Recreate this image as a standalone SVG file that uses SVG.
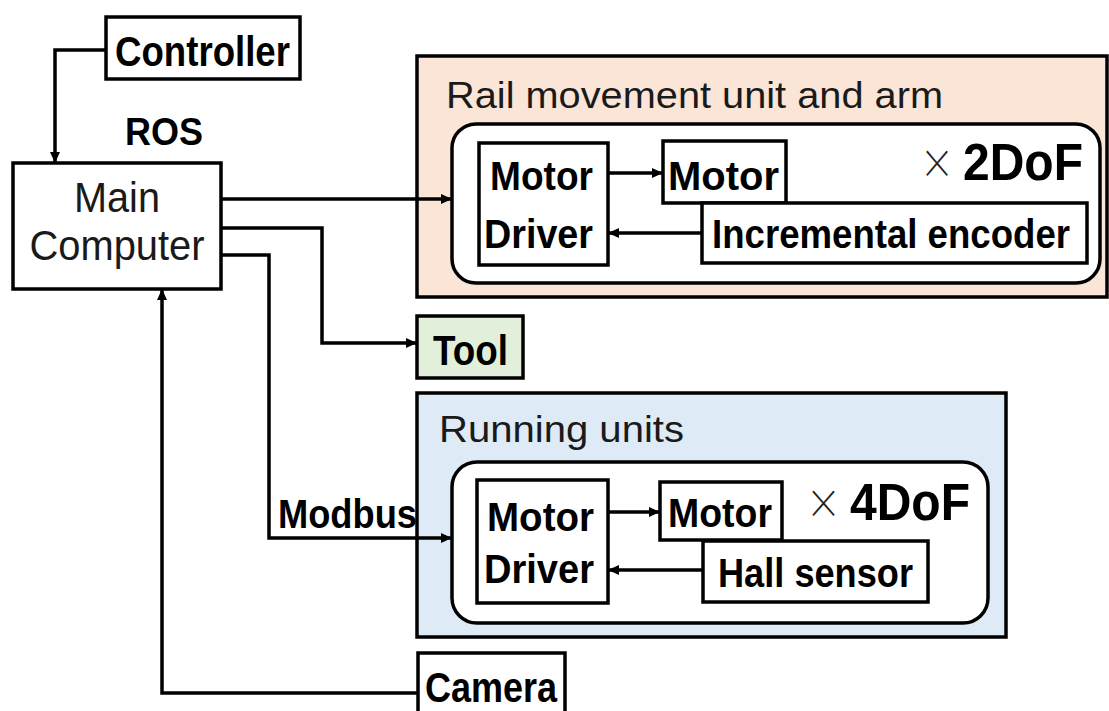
<svg xmlns="http://www.w3.org/2000/svg" width="1109" height="711" viewBox="0 0 1109 711">
<style>
.box{fill:#fff;stroke:#000;stroke-width:3.5}
.grp{stroke:#000;stroke-width:3.5}
.rnd{fill:#fff;stroke:#000;stroke-width:3.5}
.b{font-family:"Liberation Sans",Arial,sans-serif;font-weight:bold;fill:#000}
.r{font-family:"Liberation Sans",Arial,sans-serif;font-weight:normal;fill:#1a1a1a}
.x{font-family:"Noto Sans CJK JP","Liberation Sans",sans-serif;font-weight:300;fill:#222}
.ln{fill:none;stroke:#000;stroke-width:3.5}
</style>
<defs>
<marker id="ah" markerUnits="userSpaceOnUse" markerWidth="12" markerHeight="12" refX="11" refY="6" orient="auto">
<path d="M0,1 L11,6 L0,11 z" fill="#000"/>
</marker>
</defs>
<rect width="1109" height="711" fill="#fff"/>

<g id="rail">
<rect class="grp" x="417" y="56" width="690" height="241" fill="#fbe5d6"/>
<text class="r" x="446" y="108" font-size="36" textLength="497" lengthAdjust="spacingAndGlyphs">Rail movement unit and arm</text>
<rect class="rnd" x="452" y="124" width="648" height="159" rx="24"/>
</g>
<g id="rail-driver">
<rect class="box" x="479" y="143" width="129" height="122"/>
<text class="b" x="490" y="190" font-size="41" textLength="103" lengthAdjust="spacingAndGlyphs">Motor</text>
<text class="b" x="484" y="248" font-size="41" textLength="109" lengthAdjust="spacingAndGlyphs">Driver</text>
</g>
<g id="rail-motor">
<rect class="box" x="663" y="141" width="123" height="62"/>
<text class="b" x="668" y="190" font-size="41" textLength="111" lengthAdjust="spacingAndGlyphs">Motor</text>
</g>
<g id="rail-encoder">
<rect class="box" x="702" y="203" width="385" height="60"/>
<text class="b" x="712" y="248" font-size="41" textLength="358" lengthAdjust="spacingAndGlyphs">Incremental encoder</text>
</g>
<g id="rail-dof">
<text class="x" x="920" y="178" font-size="40" textLength="34" lengthAdjust="spacingAndGlyphs">×</text>
<text class="b" x="963" y="180" font-size="51" textLength="120" lengthAdjust="spacingAndGlyphs">2DoF</text>
</g>

<g id="running">
<rect class="grp" x="417" y="393" width="589" height="244" fill="#deebf7"/>
<text class="r" x="439" y="442" font-size="37" textLength="245" lengthAdjust="spacingAndGlyphs">Running units</text>
<rect class="rnd" x="452" y="462" width="536" height="161" rx="25"/>
</g>
<g id="run-driver">
<rect class="box" x="477" y="480" width="131" height="123"/>
<text class="b" x="487" y="531" font-size="41" textLength="107" lengthAdjust="spacingAndGlyphs">Motor</text>
<text class="b" x="484" y="583" font-size="41" textLength="110" lengthAdjust="spacingAndGlyphs">Driver</text>
</g>
<g id="run-motor">
<rect class="box" x="660" y="482" width="122" height="58"/>
<text class="b" x="668" y="527" font-size="41" textLength="104" lengthAdjust="spacingAndGlyphs">Motor</text>
</g>
<g id="run-hall">
<rect class="box" x="703" y="541" width="225" height="61"/>
<text class="b" x="718" y="587" font-size="41" textLength="195" lengthAdjust="spacingAndGlyphs">Hall sensor</text>
</g>
<g id="run-dof">
<text class="x" x="806" y="518" font-size="40" textLength="35" lengthAdjust="spacingAndGlyphs">×</text>
<text class="b" x="850" y="520" font-size="51" textLength="120" lengthAdjust="spacingAndGlyphs">4DoF</text>
</g>

<g id="controller">
<rect class="box" x="106" y="17" width="194" height="62"/>
<text class="b" x="115" y="66" font-size="43" textLength="175" lengthAdjust="spacingAndGlyphs">Controller</text>
</g>
<g id="ros">
<text class="b" x="125" y="145" font-size="38" textLength="78" lengthAdjust="spacingAndGlyphs">ROS</text>
</g>
<g id="main">
<rect class="box" x="13" y="163" width="208" height="126"/>
<text class="r" x="117" y="212" font-size="42" text-anchor="middle" textLength="86" lengthAdjust="spacingAndGlyphs">Main</text>
<text class="r" x="117" y="260" font-size="42" text-anchor="middle" textLength="175" lengthAdjust="spacingAndGlyphs">Computer</text>
</g>
<g id="tool">
<rect class="box" x="417" y="316" width="106" height="62" style="fill:#e2efda"/>
<text class="b" x="433" y="365" font-size="43" textLength="75" lengthAdjust="spacingAndGlyphs">Tool</text>
</g>
<g id="camera">
<rect class="box" x="418" y="653" width="147" height="70"/>
<text class="b" x="425" y="702" font-size="43" textLength="132" lengthAdjust="spacingAndGlyphs">Camera</text>
</g>
<g id="modbus">
<text class="b" x="278" y="528" font-size="41" textLength="139" lengthAdjust="spacingAndGlyphs">Modbus</text>
</g>

<g id="connectors">
<path class="ln" d="M106,50 H55 V163" marker-end="url(#ah)"/>
<path class="ln" d="M221,199 H452" marker-end="url(#ah)"/>
<path class="ln" d="M221,228 H322 V343 H417" marker-end="url(#ah)"/>
<path class="ln" d="M221,255 H269 V538 H452" marker-end="url(#ah)"/>
<path class="ln" d="M418,693 H162 V289" marker-end="url(#ah)"/>
<path class="ln" d="M608,173 H663" marker-end="url(#ah)"/>
<path class="ln" d="M702,233 H608" marker-end="url(#ah)"/>
<path class="ln" d="M608,512 H660" marker-end="url(#ah)"/>
<path class="ln" d="M703,570 H608" marker-end="url(#ah)"/>
</g>
</svg>
